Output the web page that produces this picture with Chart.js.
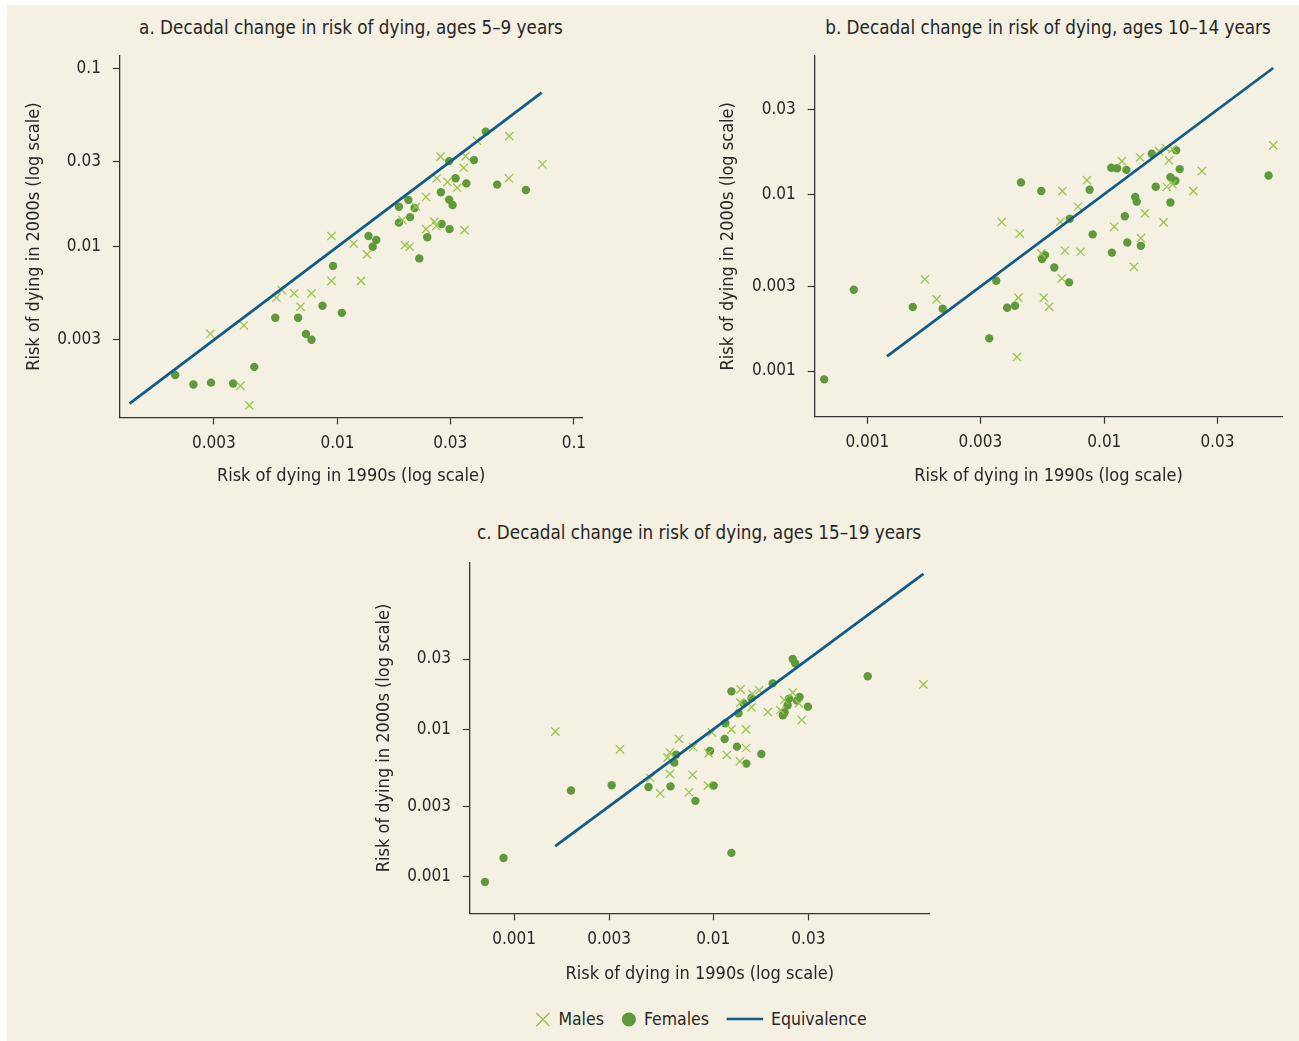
<!DOCTYPE html>
<html>
<head>
<meta charset="utf-8">
<script src="https://cdn.jsdelivr.net/npm/chart.js@4.4.1/dist/chart.umd.min.js"></script>
<style>
  html, body { margin: 0; padding: 0; background: #fff; }
  #page { position: relative; width: 1299px; height: 1041px; overflow: hidden; }
  #panel { position: absolute; left: 7px; top: 5px; right: 0; bottom: 0; background: #f4f0e2; }
  canvas { position: absolute; }
  .title, #legend {
    position: absolute; white-space: nowrap; color: #262626;
    font-family: 'Liberation Sans Narrow', 'DejaVu Sans Condensed', 'Roboto Condensed', sans-serif;
  }
  .title { transform: translateX(-50%); font-size: 18.7px; line-height: 22px; }
  #legend { left: 701px; top: 1008px; transform: translateX(-50%); display: flex; align-items: center;
    font-size: 17.5px; line-height: 22px; }
  #legend span.item { display: flex; align-items: center; margin-right: 17px; }
  #legend span.item:last-child { margin-right: 0; }
  #legend svg { margin-right: 8px; }
</style>
</head>
<body>
<div id="page">
  <div id="panel"></div>
  <div class="title" style="left:351px;top:17px">a. Decadal change in risk of dying, ages 5–9 years</div>
  <div class="title" style="left:1048px;top:17px">b. Decadal change in risk of dying, ages 10–14 years</div>
  <div class="title" style="left:699px;top:522px">c. Decadal change in risk of dying, ages 15–19 years</div>
  <canvas id="chartA" width="600" height="500" style="left:0;top:0"></canvas>
  <canvas id="chartB" width="649" height="500" style="left:650px;top:0"></canvas>
  <canvas id="chartC" width="700" height="500" style="left:300px;top:500px"></canvas>
  <div id="legend">
    <span class="item"><svg width="15" height="15"><path d="M1 1L14 14M14 1L1 14" stroke="#9cc44d" stroke-width="1.4"/></svg>Males</span>
    <span class="item"><svg width="15" height="15"><circle cx="7.5" cy="7.5" r="7" fill="#5e9a3a"/></svg>Females</span>
    <span class="item"><svg width="37" height="4"><path d="M0 2H37" stroke="#0f5b8a" stroke-width="2.6"/></svg>Equivalence</span>
  </div>
</div>
<script>
// risk of dying, [1990s, 2000s]
const malesA = [[0.0029,0.00325],[0.00389,0.00166],[0.00402,0.00362],[0.00424,0.00129],[0.00552,0.00518],[0.00582,0.00571],[0.00656,0.00547],[0.00698,0.00461],[0.00777,0.00547],[0.00944,0.01148],[0.00944,0.00644],[0.01172,0.0104],[0.01259,0.00644],[0.01334,0.00906],[0.01884,0.01412],[0.0193,0.0102],[0.0202,0.01],[0.0215,0.01675],[0.0237,0.019],[0.0237,0.01256],[0.0257,0.0138],[0.0262,0.01307],[0.0263,0.0242],[0.0273,0.032],[0.0292,0.0231],[0.0321,0.0214],[0.0342,0.0277],[0.0349,0.0322],[0.0345,0.0124],[0.0389,0.0393],[0.0531,0.0242],[0.0533,0.0417],[0.0736,0.029]];
const femalesA = [[0.00206,0.00191],[0.00246,0.00169],[0.00292,0.00173],[0.00362,0.00171],[0.00445,0.00212],[0.00546,0.004],[0.00682,0.004],[0.00736,0.00324],[0.00777,0.00301],[0.00865,0.00467],[0.00958,0.0078],[0.01044,0.00426],[0.01353,0.01148],[0.0141,0.01],[0.0146,0.0109],[0.0182,0.01675],[0.0182,0.01365],[0.01995,0.0183],[0.0203,0.01466],[0.0212,0.0165],[0.0222,0.0086],[0.024,0.0113],[0.0274,0.0202],[0.0276,0.0134],[0.0297,0.0302],[0.0297,0.01837],[0.0298,0.01256],[0.0307,0.01714],[0.0316,0.0242],[0.0351,0.02265],[0.0378,0.0306],[0.0424,0.0442],[0.0474,0.0223],[0.0627,0.0208]];
const malesB = [[0.00175,0.0033],[0.00196,0.00254],[0.00369,0.00695],[0.00428,0.0012],[0.00434,0.0026],[0.0044,0.00597],[0.00542,0.00462],[0.00556,0.0026],[0.00585,0.00231],[0.00653,0.00698],[0.00662,0.00334],[0.00665,0.0104],[0.00682,0.0048],[0.00774,0.00848],[0.00794,0.00472],[0.00845,0.012],[0.011,0.00654],[0.01186,0.01536],[0.01334,0.00388],[0.01426,0.00564],[0.01415,0.0161],[0.01483,0.00778],[0.017,0.0175],[0.01778,0.00692],[0.0182,0.0182],[0.01874,0.0155],[0.01833,0.011],[0.0194,0.01135],[0.0194,0.01795],[0.02375,0.0104],[0.0258,0.0135],[0.0516,0.01884]];
const femalesB = [[0.000658,0.000897],[0.000877,0.00288],[0.001556,0.0023],[0.00208,0.00225],[0.00327,0.00153],[0.0035,0.00324],[0.00389,0.00228],[0.0042,0.00234],[0.00445,0.01164],[0.00542,0.0104],[0.00546,0.0043],[0.00562,0.00452],[0.00615,0.00385],[0.0071,0.00317],[0.00715,0.00726],[0.00867,0.01057],[0.00893,0.00592],[0.01076,0.00467],[0.0107,0.0141],[0.01132,0.014],[0.0124,0.0137],[0.0122,0.0075],[0.0125,0.00533],[0.0135,0.00962],[0.0137,0.00906],[0.01426,0.0051],[0.01585,0.0169],[0.01648,0.011],[0.019,0.01247],[0.019,0.00897],[0.01995,0.0119],[0.0201,0.01766],[0.0208,0.01384],[0.0493,0.01274]];
const malesC = [[0.00161,0.00964],[0.0034,0.00731],[0.00483,0.00467],[0.00541,0.00368],[0.0059,0.00642],[0.00605,0.00695],[0.00606,0.00498],[0.00673,0.0086],[0.00755,0.00374],[0.00787,0.0049],[0.00793,0.00755],[0.0094,0.00415],[0.00947,0.00687],[0.00984,0.00954],[0.0117,0.0067],[0.01233,0.01],[0.0136,0.00607],[0.0137,0.01867],[0.01366,0.01517],[0.0146,0.01],[0.0146,0.00747],[0.01556,0.0141],[0.0157,0.0174],[0.017,0.0184],[0.0188,0.01311],[0.0217,0.01352],[0.0227,0.0158],[0.02505,0.01774],[0.0269,0.015],[0.0278,0.01157],[0.1135,0.0202]];
const femalesC = [[0.000714,0.00092],[0.000885,0.00134],[0.00193,0.00384],[0.00309,0.00417],[0.00473,0.00406],[0.0061,0.0041],[0.00637,0.00594],[0.00651,0.00673],[0.00813,0.00327],[0.00963,0.00713],[0.01004,0.00415],[0.0114,0.0086],[0.01149,0.011],[0.01233,0.0181],[0.01233,0.00145],[0.01315,0.00763],[0.01337,0.01285],[0.0142,0.015],[0.01466,0.00585],[0.01556,0.01633],[0.01742,0.0068],[0.01986,0.0205],[0.02234,0.01245],[0.0228,0.013],[0.0236,0.01455],[0.024,0.01614],[0.02505,0.03],[0.02576,0.02805],[0.0263,0.01566],[0.0271,0.01656],[0.02985,0.01425],[0.0596,0.0229]];

// equivalence line ends (y = x)
const equivA = [0.00132, 0.0731];
const equivB = [0.00121, 0.0516];
const equivC = [0.00161, 0.1135];

// axis ranges [min, max]
const xRangeA = [0.001202, 0.1086], yRangeA = [0.001106, 0.1173];
const xRangeB = [0.000604, 0.0564], yRangeB = [0.000552, 0.0603];
const xRangeC = [0.000645, 0.122],  yRangeC = [0.000564, 0.1352];

const ticksA = [0.003, 0.01, 0.03, 0.1];
const ticksBC = [0.001, 0.003, 0.01, 0.03];

const xTitle = 'Risk of dying in 1990s (log scale)';
const yTitle = 'Risk of dying in 2000s (log scale)';

const FONT = "'Liberation Sans Narrow', 'DejaVu Sans Condensed', 'Roboto Condensed', sans-serif";
Chart.defaults.font.family = FONT;
Chart.defaults.font.size = 17;
Chart.defaults.color = '#262626';

const toPts = arr => arr.map(p => ({ x: p[0], y: p[1] }));

function logAxis(range, ticks, title, fixSize, horizontal) {
  return {
    type: 'logarithmic',
    min: range[0], max: range[1],
    afterBuildTicks: s => { s.ticks = ticks.map(v => ({ value: v })); },
    afterFit: s => { if (horizontal) s.height = fixSize; else s.width = fixSize; },
    grid: { drawOnChartArea: false, drawTicks: true, tickLength: 7, tickColor: '#333', tickWidth: 1.2 },
    border: { display: true, color: '#333', width: 1.3 },
    ticks: { padding: horizontal ? 9 : 12, autoSkip: false, maxRotation: 0, callback: v => String(v),
             font: { size: 17 } },
    title: { display: true, text: title, padding: 0, font: { size: 18 } }
  };
}

function makeChart(id, males, females, equiv, xr, yr, ticks, lay) {
  new Chart(document.getElementById(id), {
    type: 'scatter',
    data: {
      datasets: [
        { type: 'line', label: 'Equivalence', data: toPts([[equiv[0], equiv[0]], [equiv[1], equiv[1]]]),
          borderColor: '#0f5b8a', borderWidth: 2.7, pointRadius: 0, fill: false },
        { label: 'Males', data: toPts(males), pointStyle: 'crossRot', pointRadius: 5.8,
          borderColor: '#9cc44d', backgroundColor: '#9cc44d', pointBorderWidth: 1.3 },
        { label: 'Females', data: toPts(females), pointStyle: 'circle', pointRadius: 4.2,
          borderColor: '#5e9a3a', backgroundColor: '#5e9a3a', pointBorderWidth: 0 }
      ]
    },
    options: {
      responsive: false,
      animation: false,
      layout: { padding: { left: lay.pl, right: lay.pr, top: lay.pt, bottom: lay.pb } },
      plugins: { legend: { display: false }, tooltip: { enabled: false } },
      scales: {
        x: logAxis(xr, ticks, xTitle, lay.xh, true),
        y: logAxis(yr, ticks, yTitle, lay.yw, false)
      }
    }
  });
}

makeChart('chartA', malesA, femalesA, equivA, xRangeA, yRangeA, ticksA,
  { pl: 24, pr: 17.7, pt: 56, pb: 13.2, yw: 95.9, xh: 69.5 });
makeChart('chartB', malesB, femalesB, equivB, xRangeB, yRangeB, ticksBC,
  { pl: 67.2, pr: 16.6, pt: 56, pb: 13.2, yw: 97.5, xh: 70.1 });
makeChart('chartC', malesC, femalesC, equivC, xRangeC, yRangeC, ticksBC,
  { pl: 73.2, pr: 70.3, pt: 62.7, pb: 15.2, yw: 96.7, xh: 71.5 });
</script>
</body>
</html>
